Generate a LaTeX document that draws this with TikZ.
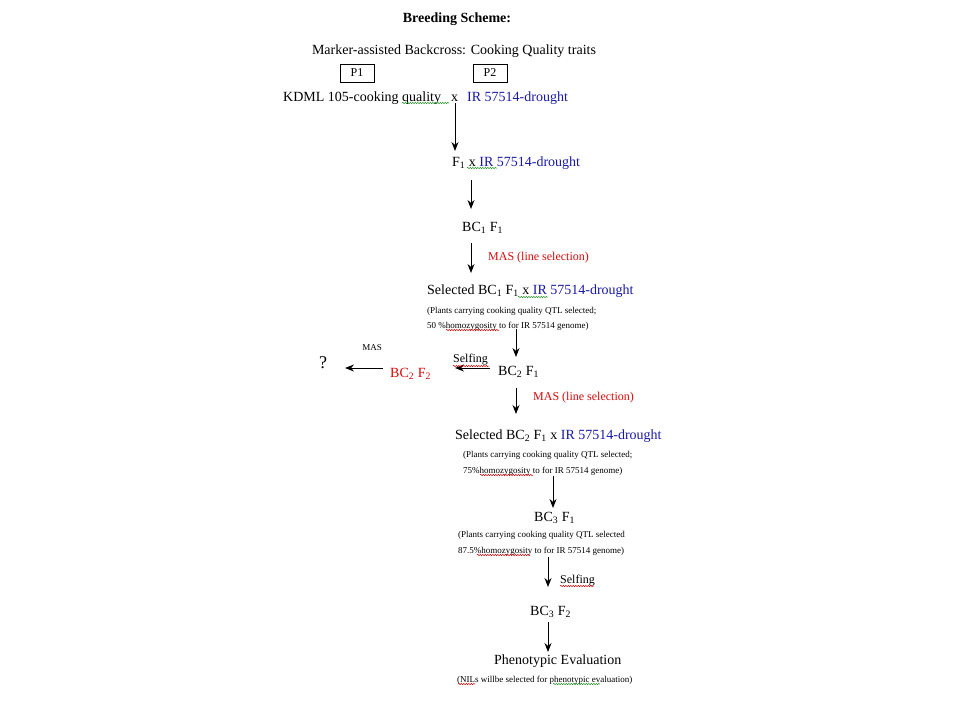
\documentclass[tikz,border=0pt]{standalone}
\usepackage{fontspec}
\setmainfont{Liberation Serif}
\usepackage{tikz}
\usetikzlibrary{arrows.meta,positioning,calc,decorations.pathmorphing}
\usepackage{xcolor}
\definecolor{irblue}{RGB}{25,25,165}
\definecolor{masred}{RGB}{215,10,10}
\definecolor{squiggreen}{RGB}{40,150,40}
\newcommand\lo[1]{\textsubscript{#1}}
\tikzset{
  txt/.style     = {inner sep=0pt, anchor=west, yshift=-2pt, font=\fontsize{14}{16}\selectfont},
  note/.style    = {inner sep=0pt, anchor=west, yshift=-1pt, font=\fontsize{9}{11}\selectfont},
  lbl/.style     = {inner sep=0pt, anchor=west, yshift=-2pt, font=\fontsize{12}{14}\selectfont},
  pbox/.style    = {draw, thin, rectangle, minimum width=34pt, minimum height=18pt,
                    inner sep=0pt, font=\fontsize{12}{14}\selectfont},
  sig/.style     = {-{Stealth[length=9pt,width=7pt]}, line width=1pt},
  squig/.style   = {decorate, decoration={snake,amplitude=0.7pt,segment length=2.5pt}, line width=0.5pt},
}
\begin{document}
\begin{tikzpicture}[x=1pt,y=-1pt]
\useasboundingbox (0,0) rectangle (960,720);
% title
\node[inner sep=0pt,yshift=-1pt,font=\fontsize{14}{16}\selectfont\bfseries] (title) at (457,18) {Breeding Scheme:};
\node[inner sep=0pt,yshift=-1pt,font=\fontsize{14}{16}\selectfont] (sub) at (454,50) {Marker-assisted Backcross: Cooking Quality traits};
\node[pbox] (p1) at (357,73) {P1};
\node[pbox] (p2) at (490,73) {P2};
% first cross
\node[txt] (kdml) at (283,96) {KDML 105-cooking quality};
\node[txt] (x0) at (451,96) {x};
\node[txt,text=irblue] (ir0) at (467,96) {IR 57514-drought};
\coordinate (a1s) at (455,103); \coordinate (a1e) at (455,151);
\draw[sig] (a1s) -- (a1e);
\node[txt] (f1) at (452,161) {F\lo{1} x \textcolor{irblue}{IR 57514-drought}};
\coordinate (a2s) at (471,180); \coordinate (a2e) at (471,209);
\draw[sig] (a2s) -- (a2e);
\node[txt] (bc1) at (462,226) {BC\lo{1} F\lo{1}};
\coordinate (a3s) at (471,243); \coordinate (a3e) at (471,273);
\draw[sig] (a3s) -- (a3e);
\node[lbl,text=masred] (mas1) at (488,256) {MAS (line selection)};
\node[txt] (sel1) at (427,289) {Selected BC\lo{1} F\lo{1} x \textcolor{irblue}{IR 57514-drought}};
\node[note] (n1a) at (427,310) {(Plants carrying cooking quality QTL selected;};
\node[note] (n1b) at (427,325) {50 \%homozygosity to for IR 57514 genome)};
\coordinate (a4s) at (516,329); \coordinate (a4e) at (516,357);
\draw[sig] (a4s) -- (a4e);
\node[txt] (bc2) at (498,370) {BC\lo{2} F\lo{1}};
% selfing branch
\coordinate (a5s) at (490,368); \coordinate (a5e) at (455,368);
\draw[sig] (a5s) -- (a5e);
\node[lbl] (self1) at (453,358) {Selfing};
\node[txt,text=masred] (bc2f2) at (390,372) {BC\lo{2} F\lo{2}};
\coordinate (a6s) at (383,368); \coordinate (a6e) at (345,368);
\draw[sig] (a6s) -- (a6e);
\node[inner sep=0pt,font=\fontsize{9}{11}\selectfont] (mas0) at (372,348) {MAS};
\node[inner sep=0pt,font=\fontsize{18}{20}\selectfont] (q) at (323,363) {?};
% second backcross
\coordinate (a7s) at (516,388); \coordinate (a7e) at (516,414);
\draw[sig] (a7s) -- (a7e);
\node[lbl,text=masred] (mas2) at (533,396) {MAS (line selection)};
\node[txt] (sel2) at (455,434) {Selected BC\lo{2} F\lo{1} x \textcolor{irblue}{IR 57514-drought}};
\node[note] (n2a) at (463,454) {(Plants carrying cooking quality QTL selected;};
\node[note] (n2b) at (463,470) {75\%homozygosity to for IR 57514 genome)};
\coordinate (a8s) at (553,476); \coordinate (a8e) at (553,508);
\draw[sig] (a8s) -- (a8e);
\node[txt] (bc3) at (534,516) {BC\lo{3} F\lo{1}};
\node[note] (n3a) at (458,534) {(Plants carrying cooking quality QTL selected};
\node[note] (n3b) at (458,550) {87.5\%homozygosity to for IR 57514 genome)};
\coordinate (a9s) at (548,557); \coordinate (a9e) at (548,587);
\draw[sig] (a9s) -- (a9e);
\node[lbl] (self2) at (560,579) {Selfing};
\node[txt] (bc3f2) at (530,610) {BC\lo{3} F\lo{2}};
\coordinate (a10s) at (548,622); \coordinate (a10e) at (548,652);
\draw[sig] (a10s) -- (a10e);
\node[txt] (pheno) at (494,659) {Phenotypic Evaluation};
\node[note] (nils) at (457,679) {(NILs willbe selected for phenotypic evaluation)};
% spell-check marks
\draw[squig,squiggreen] (402,103) -- (449,103);
\draw[squig,squiggreen] (467,168) -- (497,168);
\draw[squig,squiggreen] (518,297) -- (548,297);
\draw[squig,masred] (453,366) -- (489,366);
\draw[squig,masred] (446,330) -- (499,330);
\draw[squig,masred] (480,475) -- (533,475);
\draw[squig,masred] (477,555) -- (530,555);
\draw[squig,masred] (560,586) -- (594,586);
\draw[squig,masred] (458,684) -- (475,684);
\draw[squig,squiggreen] (553,684) -- (600,684);
\end{tikzpicture}
\end{document}
